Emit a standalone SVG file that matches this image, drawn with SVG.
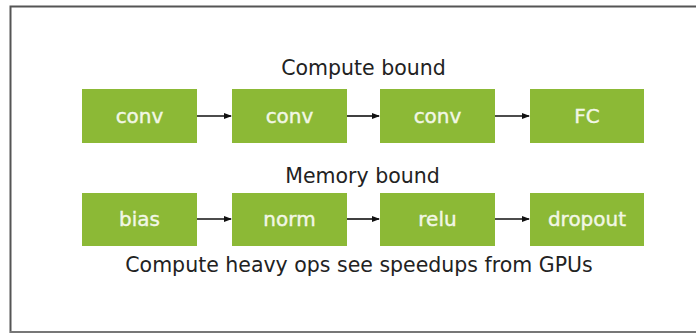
<svg xmlns="http://www.w3.org/2000/svg" width="696" height="335" viewBox="0 0 696 335">
<style>
.box{fill:#8cb936;}
.lbl{font-family:"DejaVu Sans",sans-serif;font-size:20px;fill:#f2f7e6;text-anchor:middle;stroke:#f2f7e6;stroke-width:0.4;}
.title{font-family:"DejaVu Sans",sans-serif;font-size:20.5px;fill:#222;text-anchor:middle;}
.conn{stroke:#111;stroke-width:1.6;fill:none;marker-end:url(#ah);}
</style>
<defs>
<marker id="ah" markerWidth="8" markerHeight="8" refX="7" refY="4" orient="auto" markerUnits="userSpaceOnUse">
<path d="M0,1 L8,4 L0,7 Z" fill="#111"/>
</marker>
</defs>
<rect x="0" y="0" width="696" height="335" fill="#fff"/>
<path d="M10.5,333 V6.5 H700" fill="none" stroke="#555" stroke-width="2"/>
<path d="M10,332 H700" fill="none" stroke="#777" stroke-width="2"/>
<text class="title" x="363.5" y="75">Compute bound</text>
<text class="title" x="362.5" y="183">Memory bound</text>
<text class="title" x="359" y="272">Compute heavy ops see speedups from GPUs</text>
<g id="conv1"><rect class="box" x="82" y="89" width="115" height="54"/><text class="lbl" x="139.5" y="123">conv</text></g>
<g id="conv2"><rect class="box" x="232" y="89" width="115" height="54"/><text class="lbl" x="289.5" y="123">conv</text></g>
<g id="conv3"><rect class="box" x="380" y="89" width="115" height="54"/><text class="lbl" x="437.5" y="123">conv</text></g>
<g id="fc"><rect class="box" x="530" y="89" width="114" height="54"/><text class="lbl" x="587" y="123">FC</text></g>
<g id="bias"><rect class="box" x="82" y="193" width="115" height="53"/><text class="lbl" x="139.5" y="226">bias</text></g>
<g id="norm"><rect class="box" x="232" y="193" width="115" height="53"/><text class="lbl" x="289.5" y="226">norm</text></g>
<g id="relu"><rect class="box" x="380" y="193" width="115" height="53"/><text class="lbl" x="437.5" y="226">relu</text></g>
<g id="dropout"><rect class="box" x="530" y="193" width="114" height="53"/><text class="lbl" x="587" y="226">dropout</text></g>
<g id="connectors">
<line class="conn" x1="197" y1="116" x2="231" y2="116"/>
<line class="conn" x1="347" y1="116" x2="379" y2="116"/>
<line class="conn" x1="495" y1="116" x2="529" y2="116"/>
<line class="conn" x1="197" y1="219" x2="231" y2="219"/>
<line class="conn" x1="347" y1="219" x2="379" y2="219"/>
<line class="conn" x1="495" y1="219" x2="529" y2="219"/>
</g>
</svg>
